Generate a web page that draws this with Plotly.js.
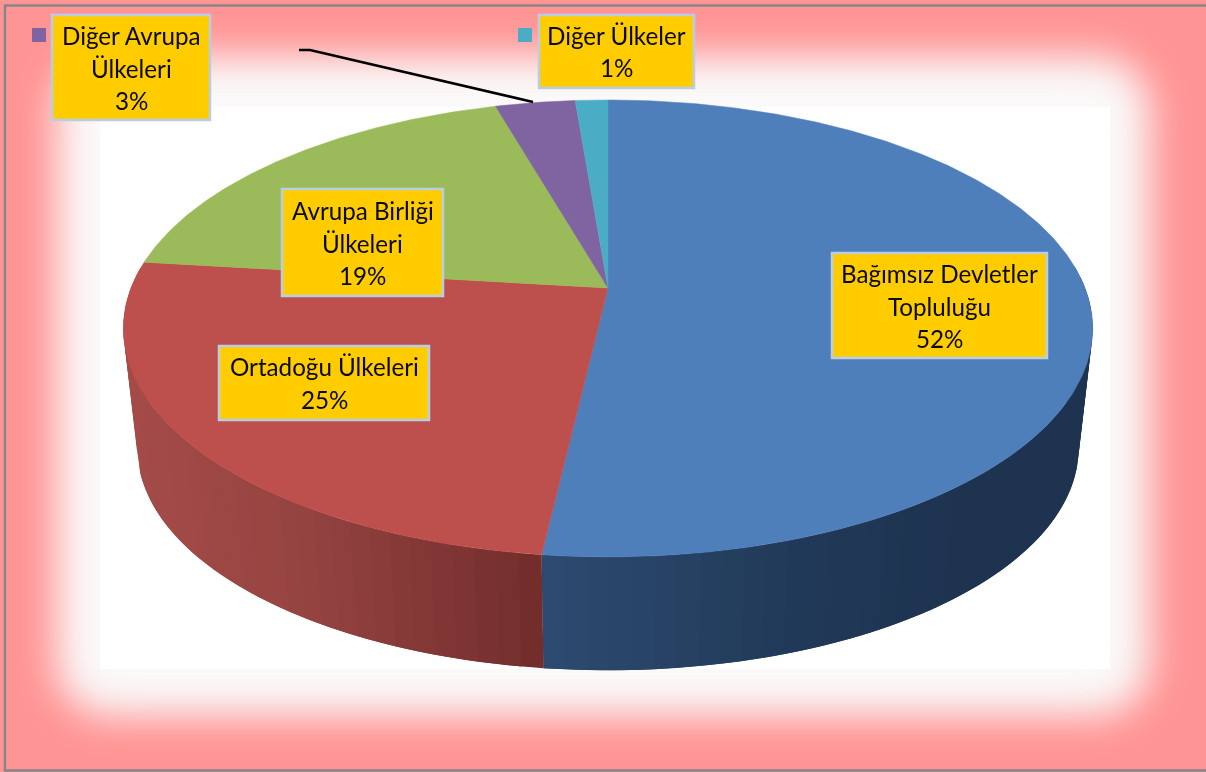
<!DOCTYPE html>
<html><head><meta charset="utf-8">
<script src="https://cdn.plot.ly/plotly-3.0.1.min.js"></script>
<style>
html,body{margin:0;padding:0;background:#ff9494;overflow:hidden}
#glow{position:fixed;left:-60px;top:-60px;width:1326px;height:892px;background:#fbfafa;border-radius:170px;box-shadow:inset 0 0 36px 112px #ff9494,inset 0 0 50px 118px rgba(255,148,148,.3)}
#chart{position:relative;width:1206px;height:772px}
</style></head><body><div id="glow"></div><div id="chart"></div>
<script>
// ---- data (slice shares; labels show rounded percent)
var categories = ['Bağımsız Devletler Topluluğu','Ortadoğu Ülkeleri','Avrupa Birliği Ülkeleri','Diğer Avrupa Ülkeleri','Diğer Ülkeler'];
var shares     = [51.83, 25.07, 18.65, 3.16, 1.29];
var labelLines = [['Bağımsız Devletler','Topluluğu'],['Ortadoğu Ülkeleri'],['Avrupa Birliği','Ülkeleri'],['Diğer Avrupa','Ülkeleri'],['Diğer Ülkeler']];
var faceColors = ['#4F7FBB','#BD4F4C','#9BBA59','#8064A2','#4BACC6'];
// wall shade anchors [screen x, r, g, b] per slice
var wallShades = [
  [[540,45,75,113],[800,33,57,87],[960,29,51,80],[1100,29,51,80]],
  [[120,166,76,73],[300,150,68,66],[545,113,45,43]],
  [[0,110,135,60],[1206,110,135,60]],
  [[0,90,70,115],[1206,90,70,115]],
  [[0,53,122,140],[1206,53,122,140]]
];
// label box layout: left, top, right, bottom in page pixels
var labelBoxes = [[832,253,1047,358],[219,346,429,420],[282,189,443,296],[52,15,210,120],[539,15,694,88]];
var legendKeys = {3:[32,28],4:[518,28]};

// ---- perspective projection of the pie disc
var apexX=608, apexY=288, persp=0.177, scaleU=477, scaleV=221.3;
var wallScale=0.971, wallDrop=120, ellipseMidY=328;
function rim(theta){ // clockwise from 12 o'clock
  var u=Math.sin(theta), v=Math.cos(theta), w=1+persp*v;
  return [apexX+scaleU*u/w, apexY-scaleV*v/w];
}
function lowerRim(theta){
  var p=rim(theta);
  return [apexX+(p[0]-apexX)*wallScale, ellipseMidY+(p[1]-ellipseMidY)*wallScale+wallDrop];
}
function shade(anchors,x){
  var a=anchors[0], b=anchors[anchors.length-1];
  for(var i=0;i<anchors.length-1;i++){ if(x>=anchors[i][0]&&x<=anchors[i+1][0]){a=anchors[i];b=anchors[i+1];break;} }
  if(x<anchors[0][0]){b=a=anchors[0];}
  if(x>anchors[anchors.length-1][0]){a=b=anchors[anchors.length-1];}
  var t=(b[0]===a[0])?0:(x-a[0])/(b[0]-a[0]);
  return 'rgb('+[1,2,3].map(function(k){return Math.round(a[k]+(b[k]-a[k])*t);}).join(',')+')';
}
var total=shares.reduce(function(s,v){return s+v;},0);
var walls=[], faces=[], start=0;
shares.forEach(function(val,idx){
  var t0=start/total*2*Math.PI, t1=(start+val)/total*2*Math.PI;
  start+=val;
  // side wall strips (front part of the disc only); each overlaps the next to hide seams
  var lo=Math.max(t0,0.47*Math.PI), hi=Math.min(t1,1.53*Math.PI);
  if(hi>lo){
    var n=Math.ceil((hi-lo)/0.04), step=(hi-lo)/n;
    for(var i=0;i<n;i++){
      var a=lo+step*i, b=Math.min(lo+step*(i+2),hi), steps=4;
      var xs=[],ys=[],xb=[],yb=[];
      for(var s=0;s<=steps;s++){
        var th=a+(b-a)*s/steps, p=rim(th), q=lowerRim(th);
        xs.push(p[0]);ys.push(p[1]);xb.unshift(q[0]);yb.unshift(q[1]);
      }
      var c=shade(wallShades[idx],(lowerRim(a)[0]+lowerRim(a+step)[0])/2);
      walls.push({type:'scatter',mode:'lines',x:xs.concat(xb,[xs[0]]),y:ys.concat(yb,[ys[0]]),
        fill:'toself',fillcolor:c,line:{color:c,width:0},hoverinfo:'skip',showlegend:false});
    }
  }
  // top face
  var fx=[apexX],fy=[apexY],m=Math.max(3,Math.ceil((t1-t0)/0.01));
  for(var j=0;j<=m;j++){var f=rim(t0+(t1-t0)*j/m);fx.push(f[0]);fy.push(f[1]);}
  fx.push(apexX);fy.push(apexY);
  faces.push({type:'scatter',mode:'lines',x:fx,y:fy,fill:'toself',fillcolor:faceColors[idx],
    line:{color:faceColors[idx],width:0.5},name:categories[idx],hoverinfo:'name',showlegend:false});
});

// ---- labels
var shapes=[], annotations=[];
var lineGap=32.5;
// white plot area inside the soft glow
shapes.push({type:'rect',xref:'x',yref:'y',x0:100,y0:107,x1:1110,y1:669,fillcolor:'#ffffff',line:{width:0},layer:'below'});
categories.forEach(function(cat,idx){
  var box=labelBoxes[idx];
  shapes.push({type:'rect',xref:'x',yref:'y',x0:box[0],y0:box[1],x1:box[2],y1:box[3],fillcolor:'#FFCC00',
    line:{color:'#B9CDE5',width:2.5},layer:'above'});
  var lines=labelLines[idx].concat([Math.round(shares[idx])+'%']);
  var cx=(box[0]+box[2])/2, cy=(box[1]+box[3])/2+(lines.length===3?0.6:0);
  lines.forEach(function(t,i){
    annotations.push({xref:'x',yref:'y',x:cx,y:cy+(i-(lines.length-1)/2)*lineGap,text:t,showarrow:false,
      xanchor:'center',yanchor:'middle',font:{family:'Lato, Carlito, sans-serif',size:24.2,color:'#0a0a0a'}});
  });
  if(legendKeys[idx]){
    var k=legendKeys[idx];
    shapes.push({type:'rect',xref:'x',yref:'y',x0:k[0],y0:k[1],x1:k[0]+14,y1:k[1]+14,fillcolor:faceColors[idx],line:{width:0},layer:'above'});
  }
});
// leader line of the "Diğer Avrupa" label
shapes.push({type:'path',xref:'x',yref:'y',path:'M299,50 L310,50 L533,102',line:{color:'#000',width:2.6},layer:'above'});
// frame
shapes.push({type:'path',xref:'x',yref:'y',path:'M1206,5.5 L5,5.5 L5,770.5 L1206,770.5',line:{color:'#868686',width:2.5},layer:'above'});

Plotly.newPlot('chart',walls.concat(faces),{
  width:1206,height:772,margin:{l:0,r:0,t:0,b:0,pad:0},
  paper_bgcolor:'rgba(0,0,0,0)',plot_bgcolor:'rgba(0,0,0,0)',
  xaxis:{range:[0,1206],visible:false,fixedrange:true},
  yaxis:{range:[772,0],visible:false,fixedrange:true},
  showlegend:false,shapes:shapes,annotations:annotations
},{displayModeBar:false,staticPlot:true});
</script></body></html>
